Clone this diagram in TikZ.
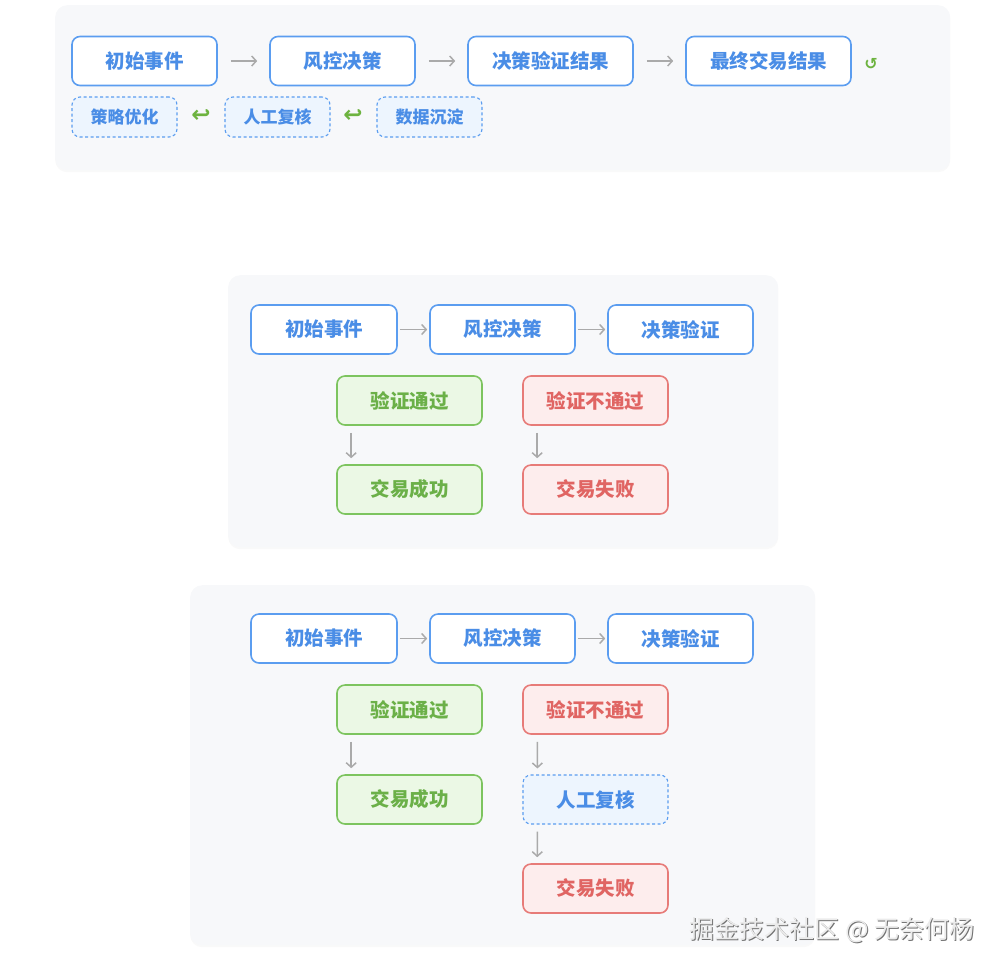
\documentclass[tikz,border=0pt]{standalone}
\usepackage{fontspec}
\newfontfamily\cjk{Noto Sans CJK SC}
\newfontfamily\symfont{DejaVu Sans}
\usetikzlibrary{arrows.meta,shadows}

\definecolor{panelbg}{HTML}{F7F8FA}
\definecolor{bluedge}{HTML}{5B9DF0}
\definecolor{bluetext}{HTML}{4A8DE6}
\definecolor{bluefill}{HTML}{EDF5FE}
\definecolor{greenedge}{HTML}{7DC45F}
\definecolor{greentext}{HTML}{6BB048}
\definecolor{greenfill}{HTML}{EBF8E5}
\definecolor{rededge}{HTML}{E77B78}
\definecolor{redtext}{HTML}{E06563}
\definecolor{redfill}{HTML}{FDEDED}
\definecolor{flowgray}{HTML}{AAAAAA}
\definecolor{loopgreen}{HTML}{6DB33F}

\begin{document}
\begin{tikzpicture}[x=1pt, y=-1pt,
                        panel/.style={
                            fill=panelbg,
                            rounded corners=12pt,
                            inner sep=0pt,
                            drop shadow={shadow xshift=0pt, shadow yshift=-2pt, opacity=0.05}
                        },
                        stepbox/.style={
                            draw=bluedge,
                            line width=1.6pt,
                            fill=white,
                            rounded corners=8pt,
                            minimum width=145pt,
                            minimum height=49pt,
                            inner sep=0pt,
                            text=bluetext,
                            font=\cjk\bfseries\fontsize{19.5}{19.5}\selectfont
                        },
                        okbox/.style={
                            stepbox,
                            draw=greenedge,
                            fill=greenfill,
                            text=greentext
                        },
                        failbox/.style={
                            stepbox,
                            draw=rededge,
                            fill=redfill,
                            text=redtext
                        },
                        notebox/.style={
                            stepbox,
                            dash pattern=on 3pt off 2.5pt,
                            line width=1.1pt,
                            fill=bluefill
                        },
                        smallnote/.style={
                            notebox,
                            minimum width=105pt,
                            minimum height=40pt,
                            font=\cjk\bfseries\fontsize{17}{17}\selectfont
                        },
                        glyph/.style={
                            text=loopgreen,
                            inner sep=0pt,
                            font=\symfont\bfseries\fontsize{23}{23}\selectfont
                        },
                        flow/.style={
                            draw=flowgray,
                            line width=1.5pt,
                            -{Straight Barb[length=4.5pt, width=10pt]}
                        }
                    ]

                    \useasboundingbox (0,0) rectangle (1000,970);

                    % Panel A (overall loop)
                    \node[panel,
                        minimum width=895pt,
                        minimum height=165pt,
                        anchor=north west
                    ] (panA) at (55,5) {};

                    \node[stepbox] (aStart) at (144.5,61) {初始事件};
                    \node[stepbox] (aRisk) at (342.5,61) {风控决策};
                    \node[stepbox, minimum width=165pt] (aCheck) at (550.5,61) {决策验证结果};
                    \node[stepbox, minimum width=165pt] (aFinal) at (768.5,61) {最终交易结果};
                    \node[glyph, font=\symfont\bfseries\fontsize{16}{16}\selectfont] (aLoop) at (871,64) {↺};

                    \draw[flow, shorten <=13pt, shorten >=12pt] (aStart) -- (aRisk);
                    \draw[flow, shorten <=13pt, shorten >=12pt] (aRisk) -- (aCheck);
                    \draw[flow, shorten <=13pt, shorten >=12pt] (aCheck) -- (aFinal);

                    \node[smallnote] (aTune) at (124.5,117) {策略优化};
                    \node[smallnote] (aReview) at (277.5,117) {人工复核};
                    \node[smallnote] (aData) at (429.5,117) {数据沉淀};
                    \node[glyph] (aBack1) at (201,116) {↩};
                    \node[glyph] (aBack2) at (353,116) {↩};

                    % Panel B (pass / fail)
                    \node[panel,
                        minimum width=550pt,
                        minimum height=272pt,
                        anchor=north west
                    ] (panB) at (228,275) {};

                    \node[stepbox, minimum width=146pt] (bStart) at (324,329.5) {初始事件};
                    \node[stepbox] (bRisk) at (502.5,329.5) {风控决策};
                    \node[stepbox] (bCheck) at (680.5,329.5) {决策验证};
                    \node[okbox] (bPass) at (409.5,400.5) {验证通过};
                    \node[failbox] (bReject) at (595.5,400.5) {验证不通过};
                    \node[okbox] (bDone) at (409.5,489.5) {交易成功};
                    \node[failbox] (bFail) at (595.5,489.5) {交易失败};

                    \draw[flow, shorten <=2pt, shorten >=2pt] (bStart) -- (bRisk);
                    \draw[flow, shorten <=2pt, shorten >=2pt] (bRisk) -- (bCheck);
                    \draw[flow, shorten <=7pt, shorten >=6pt]
                        ([xshift=15pt]bPass.south west) -- ([xshift=15pt]bDone.north west);
                    \draw[flow, shorten <=7pt, shorten >=6pt]
                        ([xshift=15pt]bReject.south west) -- ([xshift=15pt]bFail.north west);

                    % Panel C (fail goes to manual review)
                    \node[panel,
                        minimum width=625pt,
                        minimum height=360pt,
                        anchor=north west
                    ] (panC) at (190,585) {};

                    \node[stepbox, minimum width=146pt] (cStart) at (324,638.5) {初始事件};
                    \node[stepbox] (cRisk) at (502.5,638.5) {风控决策};
                    \node[stepbox] (cCheck) at (680.5,638.5) {决策验证};
                    \node[okbox] (cPass) at (409.5,709.5) {验证通过};
                    \node[failbox] (cReject) at (595.5,709.5) {验证不通过};
                    \node[okbox] (cDone) at (409.5,799.5) {交易成功};
                    \node[notebox] (cReview) at (595.5,799.5) {人工复核};
                    \node[failbox] (cFail) at (595.5,888.5) {交易失败};

                    \draw[flow, shorten <=2pt, shorten >=2pt] (cStart) -- (cRisk);
                    \draw[flow, shorten <=2pt, shorten >=2pt] (cRisk) -- (cCheck);
                    \draw[flow, shorten <=7pt, shorten >=6pt]
                        ([xshift=15pt]cPass.south west) -- ([xshift=15pt]cDone.north west);
                    \draw[flow, shorten <=7pt, shorten >=6pt]
                        ([xshift=15pt]cReject.south west) -- ([xshift=15pt]cReview.north west);
                    \draw[flow, shorten <=7pt, shorten >=6pt]
                        ([xshift=15pt]cReview.south west) -- ([xshift=15pt]cFail.north west);

                    % Watermark
                    \node[text=black!55, font=\cjk\fontsize{25}{25}\selectfont]
                        (markShade) at (833,931) {掘金技术社区 @ 无奈何杨};
                    \node[text=white!92!black, font=\cjk\fontsize{25}{25}\selectfont]
                        (mark) at (832,930) {掘金技术社区 @ 无奈何杨};
                    \end{tikzpicture}
\end{document}
